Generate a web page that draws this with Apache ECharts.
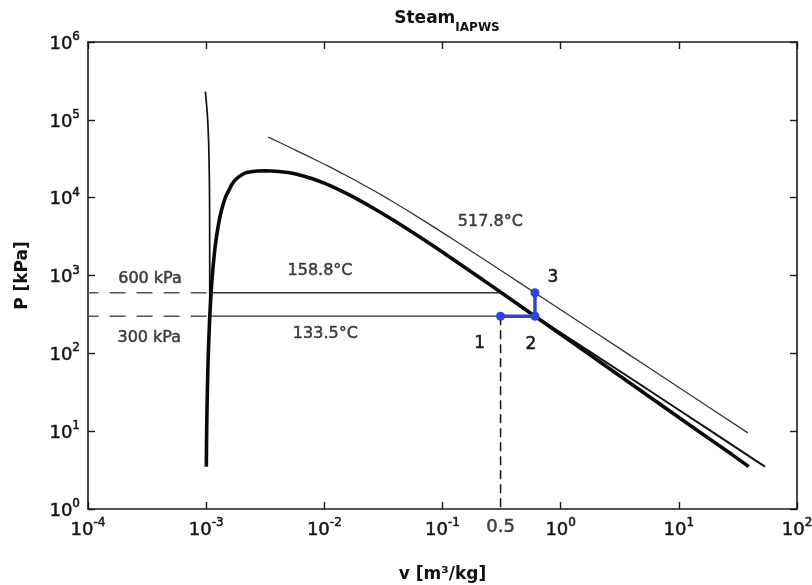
<!DOCTYPE html>
<html>
<head>
<meta charset="utf-8">
<script src="https://cdn.jsdelivr.net/npm/echarts@6/dist/echarts.min.js"></script>
<style>
html,body{margin:0;padding:0;background:#fff;}
#c{width:812px;height:585px;}
</style>
</head>
<body>
<div id="c"></div>
<script>
// Saturation dome (P in kPa, specific volumes in m3/kg)
const satP  = [3.5, 5, 10, 20, 50, 100, 200, 300, 600, 1000, 2000, 3000, 5000, 7000, 10000, 12500, 15000, 17500, 20000, 21000, 22000, 22064];
const satVf = [0.001003, 0.001005, 0.001010, 0.001017, 0.001030, 0.001043, 0.001061, 0.001073, 0.001101, 0.001127, 0.001177, 0.001217, 0.001286, 0.001352, 0.001453, 0.001560, 0.001658, 0.001804, 0.002040, 0.002207, 0.002730, 0.003106];
const satVg = [39.1, 28.185, 14.670, 7.6481, 3.2403, 1.6941, 0.88578, 0.60582, 0.31560, 0.19436, 0.099585, 0.066664, 0.039448, 0.027378, 0.018028, 0.013497, 0.010340, 0.007924, 0.005834, 0.004952, 0.003570, 0.003106];

// 133.5 °C isotherm: compressed liquid part and superheated part
const liqP = [230000, 150000, 100000, 50000, 20000, 10000, 5000, 1000, 300];
const liqV = [0.000985, 0.00101, 0.00103, 0.00105, 0.001063, 0.001068, 0.00107, 0.001072, 0.001073];
const sup133P = [300, 200, 100, 50, 20, 10, 5, 3.5];
const sup133V = [0.6058, 0.918, 1.858, 3.745, 9.38, 18.77, 37.5, 53.6];

// 517.8 °C isotherm
const iso518P = [60000, 50000, 40000, 30000, 25000, 20000, 15000, 10000, 5000, 2000, 1000, 600, 300, 100, 50, 20, 9.5];
const iso518V = [0.00335, 0.00432, 0.00586, 0.00865, 0.01102, 0.01459, 0.02078, 0.0333, 0.0704, 0.1799, 0.3625, 0.6048, 1.2142, 3.6485, 7.30, 18.25, 38.4];

// Pressure levels and states
const pLow = 300, pHigh = 600;
const vfLow = 0.001073, vgLow = 0.6058;
const vfHigh = 0.001101, vgHigh = 0.3156;
const v1 = 0.31;
const stateV = [v1, 0.6058, 0.6058];
const stateP = [300, 300, 600];
const stateNames = ['1', '2', '3'];
const vLeft = 0.00009;

// Text annotations [v, P, text]
const noteV = [0.000335, 0.00033, 0.0092, 0.0102, 0.254];
const noteP = [915, 160, 1160, 180, 4920];
const noteT = ['600 kPa', '300 kPa', '158.8°C', '133.5°C', '517.8°C'];

const xMin = 1e-4, xMax = 1e2, yMin = 1, yMax = 1e6;

const dome = [];
for (let i = 0; i < satP.length; i++) dome.push([satVf[i], satP[i]]);
for (let i = satP.length - 2; i >= 0; i--) dome.push([satVg[i], satP[i]]);

const FONT = '"DejaVu Sans", "Open Sans", sans-serif';
const TXT = '#141414';
const heavy = {textBorderColor: TXT, textBorderWidth: 0.5};
const powLabel = v => {
  const e = Math.round(Math.log10(v));
  return '{b|10}{s|' + e + '}';
};
const rich = {
  b: Object.assign({fontSize: 18, fontFamily: FONT, color: TXT, lineHeight: 22, verticalAlign: 'bottom'}, heavy),
  s: Object.assign({fontSize: 12, fontFamily: FONT, color: TXT, lineHeight: 12, verticalAlign: 'top'}, heavy)
};
const axisLine = {show: true, lineStyle: {color: '#1a1a1a', width: 1.6}};
const tick = {show: true, inside: true, length: 7, lineStyle: {color: '#1a1a1a', width: 1.4}};
const plainLabel = Object.assign({fontFamily: FONT, color: TXT, textShadowBlur: 0}, heavy);

const chart = echarts.init(document.getElementById('c'), null, {renderer: 'canvas'});
chart.setOption({
  backgroundColor: '#fff',
  animation: false,
  title: {
    text: '{a|Steam}{c|IAPWS}',
    left: 442, top: 5, textAlign: 'center',
    textStyle: {
      rich: {
        a: {fontSize: 17, fontWeight: 'bold', fontFamily: FONT, color: '#111', lineHeight: 20, verticalAlign: 'top'},
        c: {fontSize: 12, fontWeight: 'bold', fontFamily: FONT, color: '#111', lineHeight: 24, verticalAlign: 'bottom'}
      }
    }
  },
  grid: {left: 88, right: 15, top: 42, bottom: 76, containLabel: false, outerBoundsMode: 'none'},
  xAxis: [{
    type: 'log', logBase: 10, min: xMin, max: xMax,
    name: 'v [m³/kg]', nameLocation: 'middle', nameGap: 57,
    nameTextStyle: {fontSize: 17, fontWeight: 'bold', fontFamily: FONT, color: '#111'},
    axisLine, axisTick: tick, splitLine: {show: false}, minorTick: {show: false},
    axisLabel: {formatter: powLabel, rich, margin: 8}
  }, {
    type: 'log', logBase: 10, min: xMin, max: xMax, position: 'top',
    axisLine, axisTick: tick, splitLine: {show: false}, axisLabel: {show: false}
  }],
  yAxis: [{
    type: 'log', logBase: 10, min: yMin, max: yMax,
    name: 'P [kPa]', nameLocation: 'middle', nameGap: 57, nameRotate: 90,
    nameTextStyle: {fontSize: 17, fontWeight: 'bold', fontFamily: FONT, color: '#111'},
    axisLine, axisTick: tick, splitLine: {show: false},
    axisLabel: {formatter: powLabel, rich, margin: 8}
  }, {
    type: 'log', logBase: 10, min: yMin, max: yMax, position: 'right',
    axisLine, axisTick: tick, splitLine: {show: false}, axisLabel: {show: false}
  }],
  series: [
    {
      type: 'line', name: 'dashLeft600', data: [[vLeft, pHigh], [vfHigh, pHigh]], clip: false,
      showSymbol: false, lineStyle: {color: '#555', width: 1.4, type: [16, 11]}
    },
    {
      type: 'line', name: 'dashLeft300', data: [[vLeft, pLow], [vfLow, pLow]], clip: false,
      showSymbol: false, lineStyle: {color: '#555', width: 1.4, type: [16, 11]}
    },
    {
      type: 'line', name: 'line600', data: [[vfHigh, pHigh], [vgHigh, pHigh]],
      showSymbol: false, lineStyle: {color: '#333', width: 1.3}
    },
    {
      type: 'line', name: 'line300', data: [[vfLow, pLow], [vgLow, pLow]],
      showSymbol: false, lineStyle: {color: '#333', width: 1.3}
    },
    {
      type: 'line', name: 'vdash', data: [[v1, pLow], [v1, yMin]],
      showSymbol: false, lineStyle: {color: '#111', width: 1.5, type: [9, 5]}
    },
    {
      type: 'line', name: 'liq133', data: liqV.map((v, i) => [v, liqP[i]]),
      showSymbol: false, smooth: 0.3, lineStyle: {color: '#111', width: 1.7}
    },
    {
      type: 'line', name: 'sup133', data: sup133V.map((v, i) => [v, sup133P[i]]),
      showSymbol: false, lineStyle: {color: '#111', width: 2}
    },
    {
      type: 'line', name: 'iso518', data: iso518V.map((v, i) => [v, iso518P[i]]),
      showSymbol: false, smooth: 0.5, lineStyle: {color: '#333', width: 1.3}
    },
    {
      type: 'line', name: 'dome', data: dome,
      showSymbol: false, smooth: 0.35, lineStyle: {color: '#0a0a0a', width: 3.6}
    },
    {
      type: 'line', name: 'states', z: 5,
      data: stateV.map((v, i) => ({
        value: [v, stateP[i]],
        label: Object.assign({
          show: true, formatter: stateNames[i], fontSize: 17,
          position: 'inside', offset: i === 0 ? [-21, 27] : (i === 1 ? [-4, 28] : [18, -15])
        }, plainLabel)
      })),
      symbol: 'circle', symbolSize: 9, showSymbol: true,
      itemStyle: {color: '#2f44d8'},
      lineStyle: {color: '#2f44d8', width: 3.5}
    },
    {
      type: 'scatter', name: 'notes', symbolSize: 0, z: 6,
      itemStyle: {color: 'transparent'},
      data: noteV.map((v, i) => [v, noteP[i], noteT[i]]),
      label: Object.assign({show: true, position: 'inside', fontSize: 16, formatter: p => p.data[2]}, plainLabel)
    },
    {
      type: 'scatter', name: 'tick05', symbolSize: 0, z: 6,
      itemStyle: {color: 'transparent'},
      data: [[v1, yMin, '0.5']], clip: false,
      label: Object.assign({show: true, position: 'bottom', distance: 9, fontSize: 18, formatter: p => p.data[2]}, plainLabel)
    }
  ]
});
</script>
</body>
</html>
